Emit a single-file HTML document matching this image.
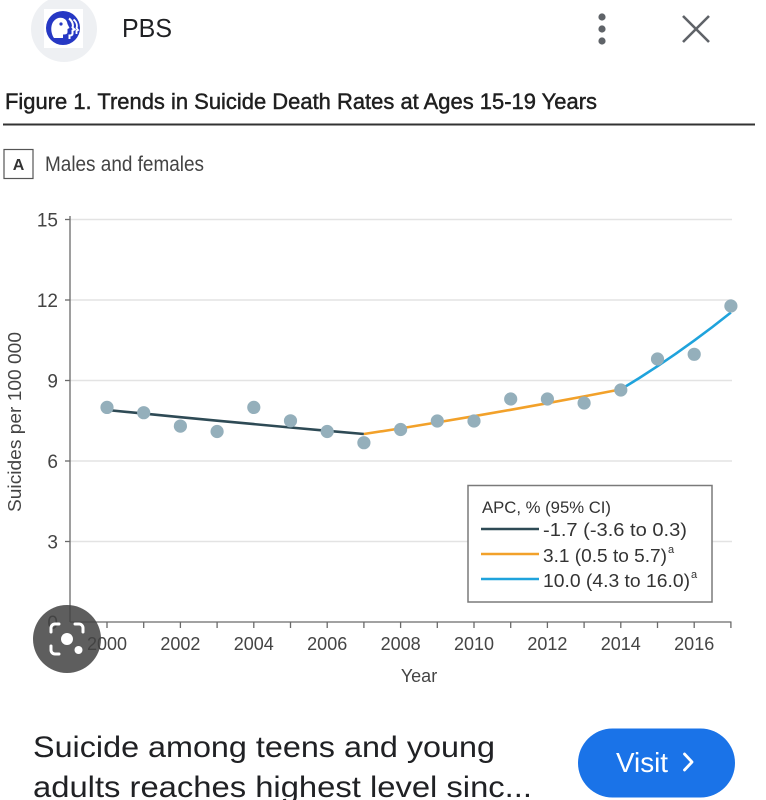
<!DOCTYPE html>
<html><head><meta charset="utf-8">
<style>
html,body{margin:0;padding:0;background:#fff;}
svg{display:block;}
text{font-family:"Liberation Sans",sans-serif;}
</style></head>
<body>
<svg width="766" height="800" viewBox="0 0 766 800" xmlns="http://www.w3.org/2000/svg">
<rect width="766" height="800" fill="#fff"/>
<!-- Header -->
<circle cx="64" cy="29" r="33" fill="#eef0f3"/>
<rect x="44" y="9" width="39" height="39" fill="#fff"/>
<circle cx="63" cy="28" r="17" fill="#2638c4"/>
<path d="M54,38 C50,32 50,22 57,18.5 C62,16.5 67,19 67.5,24 L69.5,28 L67.5,29 L67.5,32 C67.5,34 66,34.5 63,34.5 L63,38 Z" fill="#fff"/>
<circle cx="61" cy="24" r="1.6" fill="#2638c4"/>
<path d="M69,18.5 C72.5,21 73.5,25 72.5,27.5 L74.5,29.5 L72.5,30.5 L72.5,33.5 C72.5,35 71,35.5 69.5,35.5 L69.5,39" fill="none" stroke="#fff" stroke-width="2"/>
<path d="M73.5,19.5 C77,22 77.5,26 76.5,28 L78,30 L76.5,31 L76.5,34" fill="none" stroke="#fff" stroke-width="1.8"/>
<text x="122" y="37" font-size="26" fill="#202124" textLength="50" lengthAdjust="spacingAndGlyphs">PBS</text>
<circle cx="602" cy="17" r="3.6" fill="#5f6368"/>
<circle cx="602" cy="29" r="3.6" fill="#5f6368"/>
<circle cx="602" cy="41" r="3.6" fill="#5f6368"/>
<path d="M683,16 L709,42 M709,16 L683,42" stroke="#5f6368" stroke-width="2.6" fill="none"/>

<!-- Title -->
<text x="5" y="109" font-size="22" fill="#1f1f1f" stroke="#1f1f1f" stroke-width="0.45" textLength="592" lengthAdjust="spacingAndGlyphs">Figure 1. Trends in Suicide Death Rates at Ages 15-19 Years</text>
<rect x="3" y="123.5" width="752" height="2" fill="#333"/>
<rect x="4" y="149.5" width="29" height="29" fill="#fff" stroke="#555" stroke-width="1.2"/>
<text x="18.5" y="170" font-size="16" font-weight="bold" fill="#333" text-anchor="middle">A</text>
<text x="45" y="171" font-size="21" fill="#444" textLength="159" lengthAdjust="spacingAndGlyphs">Males and females</text>

<!-- Grid -->
<g stroke="#e3e3e3" stroke-width="1.5">
<line x1="70" y1="219.5" x2="732" y2="219.5"/>
<line x1="70" y1="300" x2="732" y2="300"/>
<line x1="70" y1="380.5" x2="732" y2="380.5"/>
<line x1="70" y1="461" x2="732" y2="461"/>
<line x1="70" y1="541.5" x2="732" y2="541.5"/>
</g>
<!-- Axes -->
<g stroke="#6a6a6a" stroke-width="1.3" fill="none">
<line x1="70" y1="216" x2="70" y2="622"/>
<line x1="70" y1="622" x2="731.5" y2="622"/>
<line x1="65" y1="219.5" x2="70" y2="219.5"/>
<line x1="65" y1="300" x2="70" y2="300"/>
<line x1="65" y1="380.5" x2="70" y2="380.5"/>
<line x1="65" y1="461" x2="70" y2="461"/>
<line x1="65" y1="541.5" x2="70" y2="541.5"/>
<path d="M107,622v6M143.7,622v6M180.4,622v6M217.1,622v6M253.8,622v6M290.5,622v6M327.2,622v6M363.9,622v6M400.6,622v6M437.3,622v6M474,622v6M510.7,622v6M547.4,622v6M584.1,622v6M620.8,622v6M657.5,622v6M694.2,622v6M730.9,622v6"/>
</g>
<!-- Y tick labels -->
<g font-size="19" fill="#444" text-anchor="end">
<text x="58" y="226.5">15</text>
<text x="58" y="307">12</text>
<text x="58" y="387.5">9</text>
<text x="58" y="468">6</text>
<text x="58" y="548.5">3</text>
<text x="58" y="629">0</text>
</g>
<!-- X tick labels -->
<g font-size="18" fill="#444" text-anchor="middle">
<text x="107" y="650">2000</text>
<text x="180.4" y="650">2002</text>
<text x="253.8" y="650">2004</text>
<text x="327.2" y="650">2006</text>
<text x="400.6" y="650">2008</text>
<text x="474" y="650">2010</text>
<text x="547.4" y="650">2012</text>
<text x="620.8" y="650">2014</text>
<text x="694.2" y="650">2016</text>
</g>
<text x="419" y="682" font-size="18" fill="#444" text-anchor="middle">Year</text>
<text transform="translate(21,422) rotate(-90)" font-size="18" fill="#444" text-anchor="middle" textLength="180" lengthAdjust="spacingAndGlyphs">Suicides per 100 000</text>

<!-- Trend lines -->
<polyline fill="none" stroke="#2e4a55" stroke-width="2.6" points="107,410 143.7,413.6 180.4,417.2 217.1,420.7 253.8,424.1 290.5,427.5 327.2,430.8 363.9,434"/>
<polyline fill="none" stroke="#f2a12a" stroke-width="2.6" points="363.9,434 400.6,428.4 437.3,422.4 474,416.2 510.7,409.8 547.4,403.2 584.1,396.4 620.8,389.4"/>
<polyline fill="none" stroke="#1fa3dc" stroke-width="2.6" points="620.8,389.4 639.15,378.1 657.5,366.2 675.85,353.7 694.2,340.6 712.55,326.9 730.9,312.5"/>

<!-- Dots -->
<g fill="#94afbb">
<circle cx="107" cy="407.4" r="6.6"/>
<circle cx="143.7" cy="412.7" r="6.6"/>
<circle cx="180.4" cy="426.1" r="6.6"/>
<circle cx="217.1" cy="431.5" r="6.6"/>
<circle cx="253.8" cy="407.4" r="6.6"/>
<circle cx="290.5" cy="420.8" r="6.6"/>
<circle cx="327.2" cy="431.5" r="6.6"/>
<circle cx="363.9" cy="442.7" r="6.6"/>
<circle cx="400.6" cy="429.5" r="6.6"/>
<circle cx="437.3" cy="421" r="6.6"/>
<circle cx="474" cy="421" r="6.6"/>
<circle cx="510.7" cy="399" r="6.6"/>
<circle cx="547.4" cy="399" r="6.6"/>
<circle cx="584.1" cy="403" r="6.6"/>
<circle cx="620.8" cy="390" r="6.6"/>
<circle cx="657.5" cy="359" r="6.6"/>
<circle cx="694.2" cy="354.3" r="6.6"/>
<circle cx="730.9" cy="306" r="6.6"/>
</g>

<!-- Legend -->
<rect x="468" y="485.5" width="244" height="116.5" fill="#fff" stroke="#7a7a7a" stroke-width="1.5"/>
<text x="482" y="513" font-size="17" fill="#333" textLength="129" lengthAdjust="spacingAndGlyphs">APC, % (95% CI)</text>
<line x1="481" y1="529" x2="539" y2="529" stroke="#2e4a55" stroke-width="2.6"/>
<line x1="481" y1="554" x2="539" y2="554" stroke="#f2a12a" stroke-width="2.6"/>
<line x1="481" y1="579" x2="539" y2="579" stroke="#1fa3dc" stroke-width="2.6"/>
<g font-size="18" fill="#333">
<text x="543" y="536" textLength="144" lengthAdjust="spacingAndGlyphs">-1.7 (-3.6 to 0.3)</text>
<text x="543" y="562" textLength="124" lengthAdjust="spacingAndGlyphs">3.1 (0.5 to 5.7)</text>
<text x="668" y="553" font-size="11">a</text>
<text x="543" y="587" textLength="147" lengthAdjust="spacingAndGlyphs">10.0 (4.3 to 16.0)</text>
<text x="691" y="578" font-size="11">a</text>
</g>

<!-- Lens overlay -->
<circle cx="67" cy="639" r="34" fill="#444" fill-opacity="0.86"/>
<g fill="none" stroke="#fff" stroke-width="3" stroke-linecap="round">
<path d="M51,632 v-4 a4,4 0 0 1 4,-4 h4"/>
<path d="M75,624 h4 a4,4 0 0 1 4,4 v4"/>
<path d="M51,646 v4 a4,4 0 0 0 4,4 h4"/>
</g>
<circle cx="67" cy="639" r="6" fill="#fff"/>
<circle cx="78.5" cy="650" r="4" fill="#fff"/>

<!-- Bottom -->
<text x="33" y="757" font-size="30" fill="#202124" textLength="462" lengthAdjust="spacingAndGlyphs">Suicide among teens and young</text>
<text x="33" y="797" font-size="30" fill="#202124" textLength="499" lengthAdjust="spacingAndGlyphs">adults reaches highest level sinc...</text>
<rect x="578" y="728.5" width="157" height="69" rx="34.5" fill="#1a73e8"/>
<text x="616" y="772" font-size="28" fill="#fff" textLength="52" lengthAdjust="spacingAndGlyphs">Visit</text>
<path d="M684.5,754 L692,762 L684.5,770" fill="none" stroke="#fff" stroke-width="2.8" stroke-linecap="round" stroke-linejoin="round"/>
</svg>
</body></html>
